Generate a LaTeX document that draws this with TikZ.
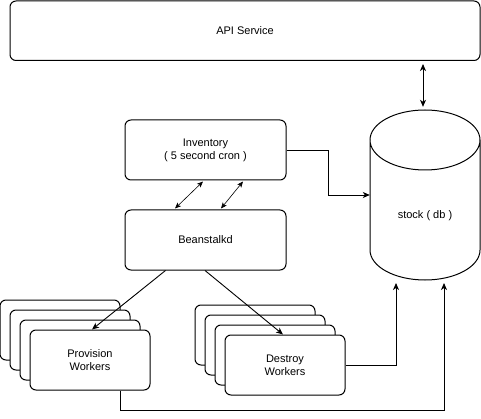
\documentclass[tikz,border=0pt]{standalone}
\usepackage{fontspec}
\setmainfont{Liberation Sans}
\usetikzlibrary{arrows.meta,calc}
\begin{document}
\begin{tikzpicture}[x=1pt,y=-1pt,
  every node/.style={font=\fontsize{11}{13}\selectfont, text=black},
  box/.style={draw, line width=1pt, rounded corners=6pt, fill=white, inner sep=0pt, align=center},
  conn/.style={line width=0.9pt},
  arr/.style={conn, -{Stealth[length=7pt,width=6pt,inset=2pt]}},
  dbl/.style={conn, {Stealth[length=7pt,width=6pt,inset=2pt]}-{Stealth[length=7pt,width=6pt,inset=2pt]}},
  sdbl/.style={line width=0.6pt, {Stealth[length=6pt,width=5pt,inset=1.5pt]}-{Stealth[length=6pt,width=5pt,inset=1.5pt]}}
]
\useasboundingbox (0,0) rectangle (481,419);

% API Service
\node[box, minimum width=470pt, minimum height=59.5pt] (api) at (245,30.75) {API Service};

% Cylinder (stock db)
\node[minimum width=110pt, minimum height=170pt, inner sep=0pt] (db) at (425,195) {};
\draw[line width=1pt, fill=white] (370,140) -- (370,250) arc[start angle=180, end angle=360, x radius=55pt, y radius=30pt] -- (480,140) arc[start angle=0, end angle=-180, x radius=55pt, y radius=30pt] -- cycle;
\draw[line width=1pt] (370,140) arc[start angle=180, end angle=360, x radius=55pt, y radius=-30pt];
\node (dblabel) at (425,216) {stock ( db )};

% Inventory and Beanstalkd
\node[box, minimum width=161pt, minimum height=60pt] (inv) at (205.5,150) {Inventory\\( 5 second cron )};
\node[box, minimum width=161pt, minimum height=60pt] (bean) at (205.5,240) {Beanstalkd};

% Provision workers stack
\node[box, minimum width=120pt, minimum height=60pt] (p1) at (60,330) {};
\node[box, minimum width=120pt, minimum height=60pt] (p2) at (70,340) {};
\node[box, minimum width=120pt, minimum height=60pt] (p3) at (80,350) {};
\node[box, minimum width=120pt, minimum height=60pt] (prov) at (90,360) {Provision\\Workers};

% Destroy workers stack
\node[box, minimum width=120pt, minimum height=60pt] (d1) at (255,335) {};
\node[box, minimum width=120pt, minimum height=60pt] (d2) at (265,345) {};
\node[box, minimum width=120pt, minimum height=60pt] (d3) at (275,355) {};
\node[box, minimum width=120pt, minimum height=60pt] (dest) at (285,365) {Destroy\\Workers};

% coordinates on the cylinder bottom
\coordinate (dbin1) at (396,283);
\coordinate (dbin2) at (444,283);

% connectors
\draw[dbl, shorten <=3pt, shorten >=3pt] (api.south -| 423,0) -- (db.north -| 423,0);
\draw[sdbl] ($(inv.south)+(-2.5,1)$) -- ($(bean.north)+(-30.5,-1)$);
\draw[sdbl] ($(inv.south)+(37.5,1)$) -- ($(bean.north)+(15.5,-1)$);
\draw[arr] (inv.east) -- ++(42,0) |- (db.west);
\draw[arr] ($(bean.south)+(-40,0)$) -- ($(prov.north)+(2,0)$);
\draw[arr] ($(bean.south)+(-0.5,0)$) -- ($(dest.north)+(-2,0)$);
\draw[arr] (dest.east) -| (dbin1);
\draw[arr] ($(prov.south)+(30,0)$) -- ++(0,20) -| (dbin2);
\end{tikzpicture}
\end{document}
